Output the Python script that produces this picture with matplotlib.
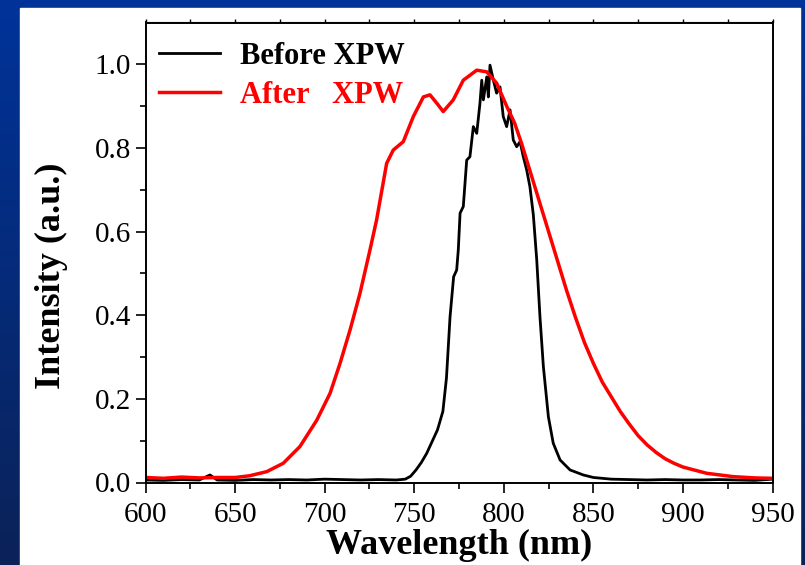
import numpy as np
import matplotlib.pyplot as plt
from matplotlib.colors import LinearSegmentedColormap
from matplotlib.patches import Rectangle

plt.rcParams["font.family"] = ["Liberation Serif", "DejaVu Serif"]

# Spectrum before XPW (black), wavelength in nm and normalized intensity
wl_before = [600, 610, 620, 630, 636, 640, 650, 660, 670, 680, 690, 700, 710, 720,
             730, 740, 745, 748, 751, 754, 757, 760, 763, 766, 768, 770, 772, 773.7,
             774.6, 775.6, 777.4, 779.3, 781.1, 783.0, 784.9, 786.7, 787.7, 788.6,
             790.5, 791.4, 792.3, 794.2, 796.0, 797.9, 799.7, 801.6, 803.5, 805.3,
             807.2, 809.1, 810.9, 812.8, 814.6, 816.5, 818.4, 820.2, 822.1, 824.9,
             827.6, 831.4, 837.0, 844.4, 850, 860, 870, 880, 890, 900, 910, 920,
             930, 940, 950]
int_before = [0.006, 0.005, 0.007, 0.006, 0.018, 0.006, 0.005, 0.007, 0.006, 0.007,
              0.006, 0.008, 0.007, 0.006, 0.007, 0.006, 0.008, 0.015, 0.030, 0.048,
              0.070, 0.098, 0.126, 0.170, 0.250, 0.396, 0.492, 0.508, 0.556, 0.644,
              0.660, 0.771, 0.779, 0.851, 0.835, 0.907, 0.962, 0.915, 0.970, 0.922,
              0.998, 0.962, 0.931, 0.946, 0.875, 0.851, 0.891, 0.819, 0.803, 0.815,
              0.779, 0.747, 0.707, 0.640, 0.532, 0.396, 0.277, 0.157, 0.094, 0.054,
              0.030, 0.018, 0.012, 0.008, 0.007, 0.006, 0.007, 0.006, 0.006, 0.007,
              0.006, 0.005, 0.008]

# Spectrum after XPW (red)
wl_after = [600, 610, 620, 630, 640, 650, 658, 667.7, 676.9, 686.2, 695.6, 703.0,
            708.6, 714.2, 719.7, 725.3, 729.0, 734.6, 738.3, 743.9, 749.5, 755.1,
            758.8, 762.6, 766.2, 771.8, 777.4, 784.9, 790.5, 796.0, 801.6, 806,
            810, 815, 820, 825, 830, 835, 840, 845, 850, 855, 860, 865, 870, 875,
            880, 885, 890, 895, 900, 913.3, 928.1, 940, 950]
int_after = [0.012, 0.010, 0.013, 0.011, 0.012, 0.012, 0.016, 0.026, 0.046, 0.086,
             0.149, 0.213, 0.285, 0.365, 0.452, 0.556, 0.628, 0.763, 0.795, 0.815,
             0.875, 0.922, 0.927, 0.907, 0.887, 0.915, 0.962, 0.986, 0.982, 0.955,
             0.900, 0.860, 0.810, 0.740, 0.670, 0.600, 0.530, 0.460, 0.395, 0.335,
             0.285, 0.240, 0.205, 0.170, 0.140, 0.112, 0.090, 0.072, 0.057, 0.046,
             0.037, 0.022, 0.014, 0.011, 0.010]

fig = plt.figure(figsize=(8.05, 5.65), dpi=100)

# blue gradient background with white panel
bg = fig.add_axes([0, 0, 1, 1])
blues = LinearSegmentedColormap.from_list("bg", ["#0b2258", "#003399"])
bg.imshow(np.linspace(0, 1, 256).reshape(-1, 1), aspect="auto", cmap=blues,
          origin="lower", extent=[0, 1, 0, 1])
bg.add_patch(Rectangle((20 / 805, 0), 780 / 805, 557.5 / 565,
                       transform=bg.transAxes, color="white"))
bg.set_xlim(0, 1)
bg.set_ylim(0, 1)
bg.axis("off")

ax = fig.add_axes([145.5 / 805, 1 - 482.5 / 565, 627 / 805, 460 / 565])
ax.plot(wl_before, int_before, color="black", lw=2.0, label="Before XPW")
ax.plot(wl_after, int_after, color="red", lw=2.5, label="After   XPW")

ax.set_xlim(600, 950)
ax.set_ylim(0, 1.1)
ax.set_xticks(np.arange(600, 951, 50))
ax.set_xticks(np.arange(600, 951, 25), minor=True)
ax.set_yticks(np.arange(0, 1.01, 0.2))
ax.set_yticks(np.arange(0, 1.01, 0.1), minor=True)
ax.yaxis.set_major_formatter(plt.FormatStrFormatter("%.1f"))
ax.tick_params(which="major", direction="out", length=7, width=1.2, labelsize=21)
ax.tick_params(axis="x", which="major", pad=7)
ax.tick_params(which="minor", direction="out", length=4, width=1.2)
for s in ax.spines.values():
    s.set_linewidth(1.4)

top = ax.secondary_xaxis("top")
top.set_xticks(np.arange(600, 951, 25))
top.tick_params(direction="out", length=2, width=1, labeltop=False)

ax.set_xlabel("Wavelength (nm)", fontsize=26, fontweight="bold", labelpad=1)
ax.set_ylabel("Intensity (a.u.)", fontsize=26, fontweight="bold")
ax.yaxis.set_label_coords(-0.124, 0.449)

ax.legend(loc="upper left", frameon=False, prop={"size": 22, "weight": "bold"},
          labelcolor=["black", "red"], handlelength=2.0, handletextpad=0.65,
          labelspacing=0.33, borderaxespad=0.2, bbox_to_anchor=(-0.008, 0.998))

fig.savefig("out.png", dpi=100)
